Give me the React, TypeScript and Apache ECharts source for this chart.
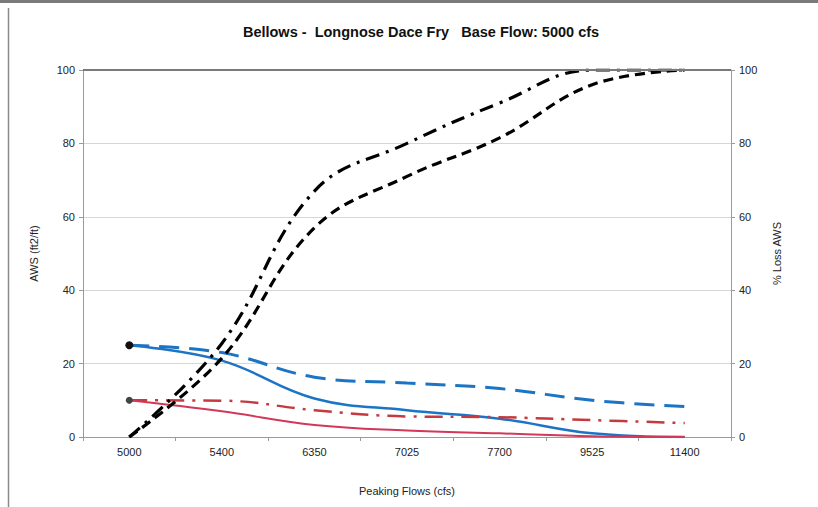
import React, { useEffect, useRef } from "react";
import * as echarts from "echarts";

const categories = ["5000", "5400", "6350", "7025", "7700", "9525", "11400"];
const awsBlueSolid = [25, 20.8, 10.5, 7.3, 5, 1, 0];
const awsBlueDashed = [25, 23, 16.3, 14.7, 13.2, 10, 8.3];
const awsRedSolid = [10, 7, 3.3, 1.8, 1, 0.2, 0];
const awsRedDashDot = [10, 9.9, 7.3, 5.6, 5.4, 4.6, 3.8];
const lossDashed = [0, 21.5, 57, 71, 81.5, 96, 100];
const lossDashDot = [0, 25.5, 67, 80, 91, 100, 100];
const yTicks = [0, 20, 40, 60, 80, 100];

const FONT = "'Liberation Sans', Arial, sans-serif";

function firstMarked(values: number[], color: string, size: number) {
  return values.map((v, i) =>
    i === 0
      ? { value: v, symbol: "circle", symbolSize: size, itemStyle: { color } }
      : { value: v, symbol: "none" }
  );
}

export default function App() {
  const ref = useRef<HTMLDivElement>(null);
  useEffect(() => {
    if (!ref.current) return;
    const chart = echarts.init(ref.current, undefined, { renderer: "svg" });
    const yMax = yTicks[yTicks.length - 1];
    const yStep = yTicks[1] - yTicks[0];
    chart.setOption({
      animation: false,
      backgroundColor: "#ffffff",
      title: {
        text: "Bellows -  Longnose Dace Fry   Base Flow: 5000 cfs",
        left: 416,
        textAlign: "center",
        top: 19,
        textStyle: { fontFamily: FONT, fontSize: 14.5, fontWeight: "bold", color: "#111" },
      },
      graphic: [
        { type: "rect", shape: { x: 0, y: 0, width: 818, height: 3 }, style: { fill: "#7a7a7a" } },
        { type: "line", shape: { x1: 8.5, y1: 8, x2: 8.5, y2: 507 }, style: { stroke: "#8a8a8a", lineWidth: 1.5 } },
      ],
      grid: { left: 83, right: 87, top: 70, bottom: 70, containLabel: false },
      xAxis: {
        type: "category",
        data: categories,
        boundaryGap: true,
        name: "Peaking Flows (cfs)",
        nameLocation: "middle",
        nameGap: 48,
        nameTextStyle: { fontFamily: FONT, fontSize: 11, color: "#222" },
        axisLine: { lineStyle: { color: "#9a9a9a", width: 1 } },
        axisTick: { show: true, alignWithLabel: false, length: 4, lineStyle: { color: "#9a9a9a" } },
        axisLabel: { fontFamily: FONT, fontSize: 11, color: "#222", margin: 9 },
        splitLine: { show: false },
      },
      yAxis: [
        {
          type: "value",
          min: 0,
          max: yMax,
          interval: yStep,
          name: "AWS (ft2/ft)",
          nameLocation: "middle",
          nameGap: 44,
          nameRotate: 90,
          nameTextStyle: { fontFamily: FONT, fontSize: 11, color: "#222" },
          axisLine: { show: true, lineStyle: { color: "#9a9a9a" } },
          axisTick: { show: true, length: 4, lineStyle: { color: "#9a9a9a" } },
          axisLabel: { fontFamily: FONT, fontSize: 11, color: "#222", margin: 8 },
          splitLine: { show: true, lineStyle: { color: "#d6d6d6", width: 1 } },
        },
        {
          type: "value",
          min: 0,
          max: yMax,
          interval: yStep,
          name: "% Loss AWS",
          nameLocation: "middle",
          nameGap: 40,
          nameRotate: 90,
          nameTextStyle: { fontFamily: FONT, fontSize: 11, color: "#222" },
          axisLine: { show: true, lineStyle: { color: "#9a9a9a" } },
          axisTick: { show: true, length: 4, lineStyle: { color: "#9a9a9a" } },
          axisLabel: { fontFamily: FONT, fontSize: 11, color: "#222", margin: 8 },
          splitLine: { show: false },
        },
      ],
      series: [
        {
          type: "line",
          yAxisIndex: 0,
          data: awsBlueDashed,
          smooth: 0.4,
          showSymbol: false,
          symbol: "none",
          lineStyle: { color: "#1c74c4", width: 3, type: [20, 10] },
          markLine: {
            silent: true,
            symbol: "none",
            label: { show: false },
            lineStyle: { color: "#7a7a7a", width: 2, type: "solid" },
            data: [{ yAxis: yMax }],
          },
        },
        {
          type: "line",
          yAxisIndex: 0,
          data: firstMarked(awsBlueSolid, "#111111", 8),
          smooth: 0.4,
          showSymbol: true,
          lineStyle: { color: "#1c74c4", width: 2.5 },
          itemStyle: { color: "#1c74c4" },
        },
        {
          type: "line",
          yAxisIndex: 0,
          data: awsRedDashDot,
          smooth: 0.4,
          showSymbol: false,
          symbol: "none",
          lineStyle: { color: "#c43a3e", width: 2.5, type: [18, 8, 3, 8] },
        },
        {
          type: "line",
          yAxisIndex: 0,
          data: firstMarked(awsRedSolid, "#444444", 7),
          smooth: 0.4,
          showSymbol: true,
          lineStyle: { color: "#d2385a", width: 2 },
          itemStyle: { color: "#d2385a" },
        },
        {
          type: "line",
          yAxisIndex: 1,
          data: lossDashed,
          smooth: 0.4,
          showSymbol: false,
          symbol: "none",
          lineStyle: { color: "#000000", width: 3.2, type: [10, 6] },
        },
        {
          type: "line",
          yAxisIndex: 1,
          data: lossDashDot,
          smooth: 0.4,
          showSymbol: false,
          symbol: "none",
          lineStyle: { color: "#000000", width: 3.2, type: [14, 7, 3, 7] },
        },
      ],
    });
    return () => chart.dispose();
  }, []);
  return (
    <div
      ref={ref}
      style={{ position: "fixed", left: 0, top: 0, width: 818, height: 507 }}
    />
  );
}
